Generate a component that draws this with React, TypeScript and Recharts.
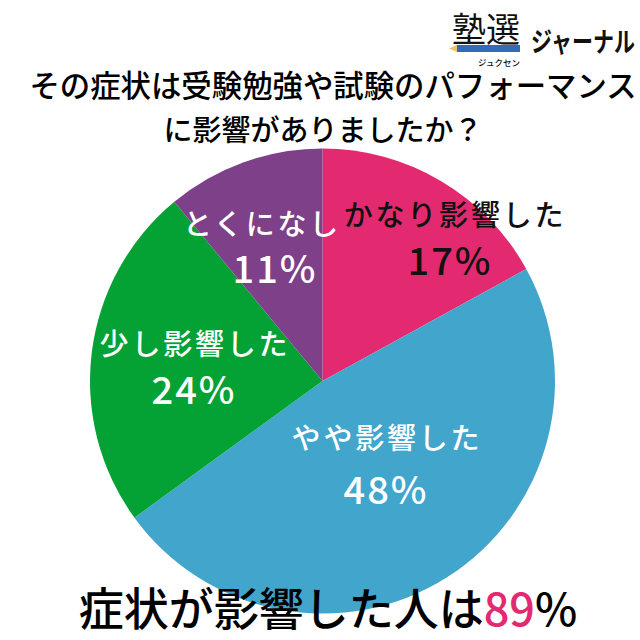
import React from "react";
import { PieChart, Pie, Cell } from "recharts";

const categories = ["かなり影響した", "やや影響した", "少し影響した", "とくになし"];
const values = [17, 48, 24, 11];
const colors = ["#E32A70", "#41A5CC", "#04A234", "#7D4089"];
const titleLines = ["その症状は受験勉強や試験のパフォーマンス", "に影響がありましたか？"];

const data = categories.map((name, i) => ({ name, value: values[i] }));
const FONT = '"Noto Sans CJK JP", sans-serif';

const nameX = [455, 387, 195, 262];
const nameY = [213, 436, 342, 222];
const pctX = [450, 386, 194, 275];
const pctY = [258, 487, 387, 266];
const labelInk = ["#111", "#fff", "#fff", "#fff"];

const renderLabel = (p: any) => {
  const i = p.index;
  return (
    <g key={i}>
      <text x={nameX[i]} y={nameY[i]} textAnchor="middle" dominantBaseline="central" fill={labelInk[i]}
        fontFamily={FONT} fontWeight={500} fontSize={29} letterSpacing={2.8}>{categories[i]}</text>
      <text x={pctX[i]} y={pctY[i]} textAnchor="middle" dominantBaseline="central" fill={labelInk[i]}
        fontFamily={FONT} fontWeight={500} fontSize={38} letterSpacing={2}>{values[i]}%</text>
    </g>
  );
};

export default function App() {
  return (
    <div style={{ position: "absolute", left: 0, top: 0, width: 640, height: 640, background: "#fff", overflow: "hidden" }}>
      <PieChart width={640} height={640} margin={{ top: 0, right: 0, bottom: 0, left: 0 }}>
        <Pie data={data} dataKey="value" nameKey="name" cx={322.5} cy={381} outerRadius={232.5} innerRadius={0}
          startAngle={90} endAngle={-270} stroke="none" isAnimationActive={false} label={renderLabel} labelLine={false}>
          {data.map((d, i) => <Cell key={d.name} fill={colors[i]} />)}
        </Pie>
      </PieChart>
      <svg width={640} height={640} style={{ position: "absolute", left: 0, top: 0, pointerEvents: "none" }} fontFamily={FONT}>
        <text x={333} y={84} textAnchor="middle" dominantBaseline="central" fontSize={30.4} fontWeight={500} fill="#000">{titleLines[0]}</text>
        <text x={323} y={128} textAnchor="middle" dominantBaseline="central" fontSize={29} fontWeight={500} fill="#000">{titleLines[1]}</text>
        <text x={328} y={606} textAnchor="middle" dominantBaseline="central" fontSize={45} fontWeight={500} fill="#000">症状が影響した人は<tspan fill="#E32A70">89</tspan>%</text>
        <text x={486} y={27} textAnchor="middle" dominantBaseline="central" fontSize={34} fontWeight={400} fill="#111">塾選</text>
        <rect x={457} y={45} width={63} height={7} fill="#2F6DB8" />
        <polygon points="449,48.5 457,45 457,52" fill="#E8C56A" />
        <text transform="translate(583,40) scale(1,1.3)" textAnchor="middle" dominantBaseline="central" fontSize={21} fontWeight={700} fill="#111">ジャーナル</text>
        <text x={499} y={62} textAnchor="middle" dominantBaseline="central" fontSize={8.5} fontWeight={500} fill="#111">ジュクセン</text>
      </svg>
    </div>
  );
}
